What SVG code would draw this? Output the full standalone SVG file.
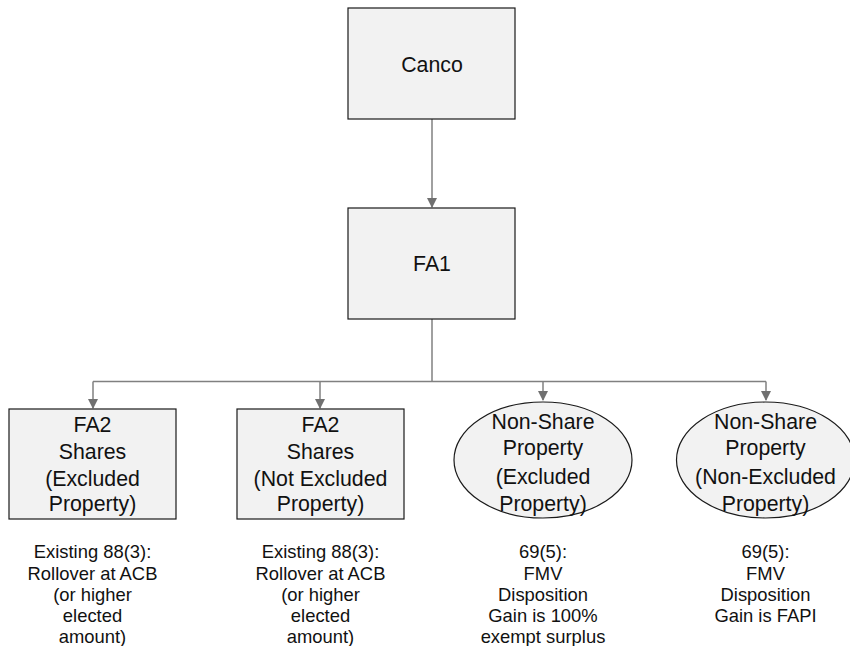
<svg xmlns="http://www.w3.org/2000/svg" width="850" height="646" viewBox="0 0 850 646">
  <style>
    .node { fill: #f2f2f2; stroke: #1a1a1a; stroke-width: 1.2; }
    .conn { fill: none; stroke: #808080; stroke-width: 1.5; }
    .lbl { font-family: "Liberation Sans", Arial, sans-serif; font-size: 21.3px; fill: #111; text-anchor: middle; }
    .note { font-family: "Liberation Sans", Arial, sans-serif; font-size: 18.4px; fill: #111; text-anchor: middle; }
  </style>
  <defs>
    <marker id="arrow" markerWidth="10" markerHeight="11" refX="9" refY="5.5" orient="auto" markerUnits="userSpaceOnUse">
      <path d="M0,0.5 L10,5.5 L0,10.5 Z" fill="#707070"/>
    </marker>
  </defs>
  <rect width="850" height="646" fill="#ffffff"/>

  <g id="connectors">
    <line class="conn" x1="432" y1="119" x2="432" y2="207" marker-end="url(#arrow)"/>
    <line class="conn" x1="432" y1="319" x2="432" y2="381.5"/>
    <line class="conn" x1="93" y1="381.5" x2="766" y2="381.5"/>
    <line class="conn" x1="93" y1="381.5" x2="93" y2="408" marker-end="url(#arrow)"/>
    <line class="conn" x1="320" y1="381.5" x2="320" y2="408" marker-end="url(#arrow)"/>
    <line class="conn" x1="543" y1="381.5" x2="543" y2="400" marker-end="url(#arrow)"/>
    <line class="conn" x1="766" y1="381.5" x2="766" y2="400" marker-end="url(#arrow)"/>
  </g>

  <g id="canco">
    <rect class="node" x="348" y="8" width="167" height="111"/>
    <text class="lbl" x="432" y="72">Canco</text>
  </g>

  <g id="fa1">
    <rect class="node" x="348" y="208" width="167" height="111"/>
    <text class="lbl" x="432" y="271">FA1</text>
  </g>

  <g id="fa2-excluded">
    <rect class="node" x="9" y="409" width="167" height="110"/>
    <text class="lbl" x="92.5" y="431.5">FA2</text>
    <text class="lbl" x="92.5" y="458.5">Shares</text>
    <text class="lbl" x="92.5" y="485.5">(Excluded</text>
    <text class="lbl" x="92.5" y="511">Property)</text>
  </g>

  <g id="fa2-not-excluded">
    <rect class="node" x="237" y="409" width="167" height="110"/>
    <text class="lbl" x="320.5" y="431.5">FA2</text>
    <text class="lbl" x="320.5" y="458.5">Shares</text>
    <text class="lbl" x="320.5" y="485.5">(Not Excluded</text>
    <text class="lbl" x="320.5" y="511">Property)</text>
  </g>

  <g id="nsp-excluded">
    <ellipse class="node" cx="543" cy="460" rx="89" ry="58"/>
    <text class="lbl" x="543" y="428.5">Non-Share</text>
    <text class="lbl" x="543" y="455">Property</text>
    <text class="lbl" x="543" y="484">(Excluded</text>
    <text class="lbl" x="543" y="510.5">Property)</text>
  </g>

  <g id="nsp-non-excluded">
    <ellipse class="node" cx="765.5" cy="460" rx="89" ry="58"/>
    <text class="lbl" x="765.5" y="428.5">Non-Share</text>
    <text class="lbl" x="765.5" y="455">Property</text>
    <text class="lbl" x="765.5" y="484">(Non-Excluded</text>
    <text class="lbl" x="765.5" y="510.5">Property)</text>
  </g>

  <g id="notes">
    <text class="note" x="92.5" y="558">Existing 88(3):</text>
    <text class="note" x="92.5" y="579.5">Rollover at ACB</text>
    <text class="note" x="92.5" y="601">(or higher</text>
    <text class="note" x="92.5" y="622">elected</text>
    <text class="note" x="92.5" y="643">amount)</text>

    <text class="note" x="320.5" y="558">Existing 88(3):</text>
    <text class="note" x="320.5" y="579.5">Rollover at ACB</text>
    <text class="note" x="320.5" y="601">(or higher</text>
    <text class="note" x="320.5" y="622">elected</text>
    <text class="note" x="320.5" y="643">amount)</text>

    <text class="note" x="543" y="558">69(5):</text>
    <text class="note" x="543" y="579.5">FMV</text>
    <text class="note" x="543" y="601">Disposition</text>
    <text class="note" x="543" y="622">Gain is 100%</text>
    <text class="note" x="543" y="643">exempt surplus</text>

    <text class="note" x="765.5" y="558">69(5):</text>
    <text class="note" x="765.5" y="579.5">FMV</text>
    <text class="note" x="765.5" y="601">Disposition</text>
    <text class="note" x="765.5" y="622">Gain is FAPI</text>
  </g>
</svg>
